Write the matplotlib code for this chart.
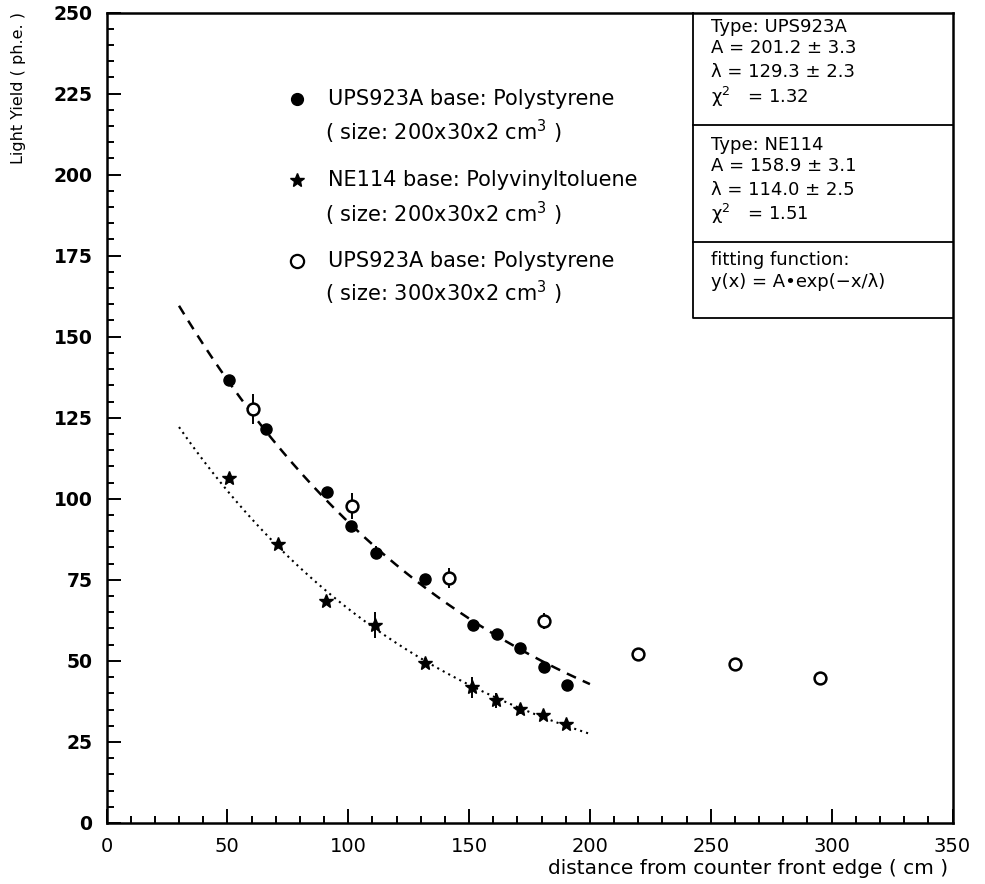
import numpy as np
import matplotlib
matplotlib.use("Agg")
import matplotlib.pyplot as plt
from matplotlib.ticker import MultipleLocator

# ---------------- data ----------------
# UPS923A, 200x30x2 cm^3 (filled circles)
ups200_x = [50.8, 65.9, 91.2, 101.3, 111.4, 131.9, 151.6, 161.4, 171.1, 181.0, 190.4]
ups200_y = [136.6, 121.6, 102.2, 91.6, 83.3, 75.3, 61.0, 58.2, 54.1, 48.2, 42.7]
ups200_err = [1.2, 1.2, 1.2, 1.5, 2.0, 1.5, 1.2, 1.2, 1.5, 1.2, 1.2]

# NE114, 200x30x2 cm^3 (stars)
ne114_x = [50.6, 70.8, 91.0, 111.0, 131.6, 151.3, 161.3, 171.1, 180.7, 190.3]
ne114_y = [106.3, 86.2, 68.5, 61.0, 49.4, 41.8, 37.9, 35.1, 33.2, 30.4]
ne114_err = [1.5, 1.0, 1.0, 4.0, 1.0, 3.2, 2.3, 1.5, 1.0, 1.0]

# UPS923A, 300x30x2 cm^3 (open circles)
ups300_x = [60.5, 101.5, 141.8, 181.0, 220.0, 260.0, 295.0]
ups300_y = [127.7, 97.8, 75.6, 62.3, 52.0, 48.9, 44.8]
ups300_err = [4.6, 3.9, 3.1, 2.5, 1.0, 1.0, 1.0]

# fit parameters  y(x) = A*exp(-x/lambda)
fit_ups_A, fit_ups_lam = 201.2, 129.3
fit_ne_A, fit_ne_lam = 158.9, 114.0
fit_range = [30, 200]

legend_labels = ["UPS923A base: Polystyrene", "( size: 200x30x2 cm$^{3}$ )",
                 "NE114 base: Polyvinyltoluene", "( size: 200x30x2 cm$^{3}$ )",
                 "UPS923A base: Polystyrene", "( size: 300x30x2 cm$^{3}$ )"]

stat_lines = ["Type: UPS923A", "A = 201.2 \u00b1 3.3", "\u03bb = 129.3 \u00b1 2.3", "\u03c7$^{2}$   = 1.32",
              "Type: NE114", "A = 158.9 \u00b1 3.1", "\u03bb = 114.0 \u00b1 2.5", "\u03c7$^{2}$   = 1.51",
              "fitting function:", "y(x) = A\u2022exp(\u2212x/\u03bb)"]

# ---------------- figure ----------------
W, H = 985, 884
fig = plt.figure(figsize=(W / 100, H / 100), dpi=100)
left, right, top, bottom = 106.5, 952.5, 12.5, 823
ax = fig.add_axes([left / W, 1 - bottom / H, (right - left) / W, (bottom - top) / H])
ax.set_xlim(0, 350)
ax.set_ylim(0, 250)

for s in ax.spines.values():
    s.set_linewidth(1.8)

ax.xaxis.set_major_locator(MultipleLocator(50))
ax.xaxis.set_minor_locator(MultipleLocator(10))
ax.yaxis.set_major_locator(MultipleLocator(25))
ax.yaxis.set_minor_locator(MultipleLocator(5))
ax.tick_params(which="both", direction="in", top=False, right=False, width=1.4)
ax.tick_params(which="major", length=10)
ax.tick_params(which="minor", length=5)
ax.tick_params(axis="x", which="major", labelsize=14, pad=10)
ax.tick_params(axis="y", which="major", labelsize=13.5, pad=10)
for t in ax.get_yticklabels():
    t.set_fontweight("bold")

# fit curves
xf = np.linspace(fit_range[0], fit_range[1], 200)
ax.plot(xf, fit_ups_A * np.exp(-xf / fit_ups_lam), color="black", lw=1.8,
        linestyle=(0, (4, 3)))
ax.plot(xf, fit_ne_A * np.exp(-xf / fit_ne_lam), color="black", lw=1.5,
        linestyle=(0, (1, 2)))

# data
ax.errorbar(ups200_x, ups200_y, yerr=ups200_err, fmt="o", color="black",
            ms=8, elinewidth=1.4, capsize=0, zorder=3)
ax.errorbar(ne114_x, ne114_y, yerr=ne114_err, fmt="*", color="black",
            ms=10, elinewidth=1.4, capsize=0, zorder=3)
ax.errorbar(ups300_x, ups300_y, yerr=ups300_err, fmt="o", color="black",
            mfc="white", mec="black", mew=1.8, ms=8.5, elinewidth=1.4,
            capsize=0, zorder=3)

# in-plot legend
tr = ax.transAxes
mk_x, tx_x, tx2_x = 0.225, 0.262, 0.258
ys = [0.893, 0.853, 0.793, 0.752, 0.693, 0.654]
ax.plot([mk_x], [ys[0]], "o", color="black", ms=8.5, transform=tr, clip_on=False)
ax.plot([mk_x], [ys[2]], "*", color="black", ms=10, transform=tr, clip_on=False)
ax.plot([mk_x], [ys[4]], "o", mfc="white", mec="black", mew=1.6, ms=9.5,
        transform=tr, clip_on=False)
for i, (lab, y) in enumerate(zip(legend_labels, ys)):
    ax.text(tx_x if i % 2 == 0 else tx2_x, y, lab, transform=tr, fontsize=15,
            va="center", ha="left")

# stats box
bx0, by0 = 0.693, 0.623
ax.plot([bx0, bx0, 1.0], [1.0, by0, by0], color="black", lw=1.3, transform=tr, clip_on=False)
for yy in [0.861, 0.717]:
    ax.plot([bx0, 1.0], [yy, yy], color="black", lw=1.3, transform=tr, clip_on=False)
stat_ys = [0.9825, 0.956, 0.927, 0.896, 0.837, 0.810, 0.781, 0.752, 0.695, 0.668]
for lab, y in zip(stat_lines, stat_ys):
    ax.text(0.715, y, lab, transform=tr, fontsize=13, va="center", ha="left")

# axis labels
ax.set_ylabel("Light Yield ( ph.e. )", fontsize=11.5)
ax.yaxis.set_label_coords(-0.095, 1.0)
ax.yaxis.label.set_ha("right")
ax.set_xlabel("distance from counter front edge ( cm )", fontsize=14.5)
ax.xaxis.set_label_coords(0.995, -0.045)
ax.xaxis.label.set_ha("right")

fig.savefig("out.png", dpi=100)
